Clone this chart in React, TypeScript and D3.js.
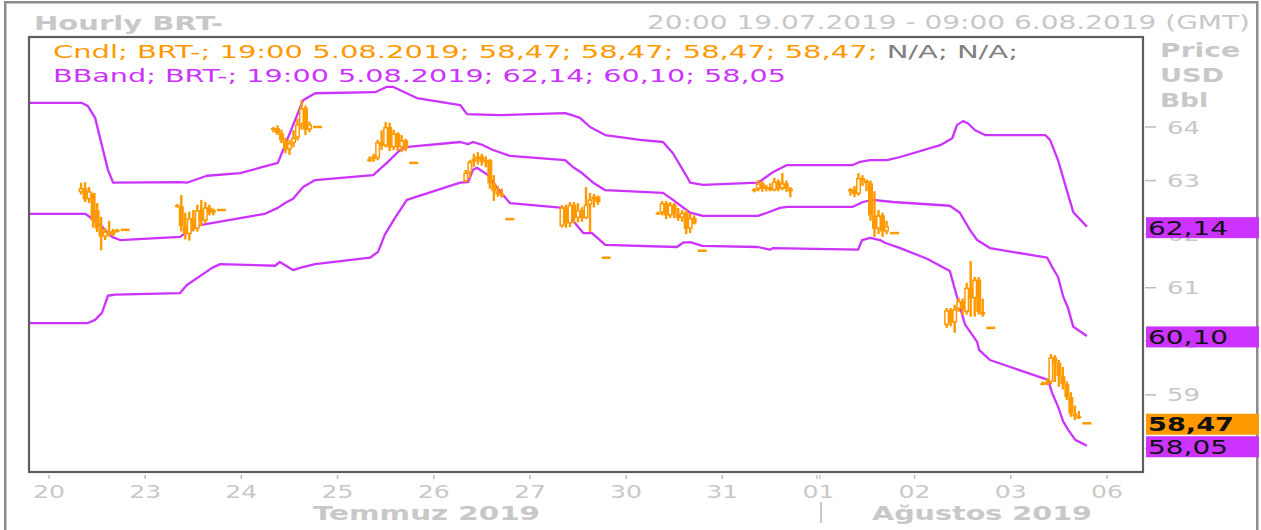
import * as d3 from "d3";

// trading-day slots shown on the time axis (weekends removed)
const dayLabels = ["20", "23", "24", "25", "26", "27", "30", "31", "01", "02", "03", "06"];
const sessionHours = [8, 9, 10, 11, 12, 13, 14, 15, 16, 17];
const settleHour = 19;

// hourly candles, one row per day slot, one column per session hour
const openByDay = [
  [62.78, 62.86, 62.65, 62.77, 62.45, 62.10, 61.95, 62.05, 62.00, 62.06],
  [62.54, 62.52, 62.15, 62.00, 62.30, 62.10, 62.45, 62.25, 62.50, 62.40],
  [63.95, 63.98, 63.88, 63.75, 63.58, 63.70, 63.80, 64.05, 64.35, 63.95],
  [63.38, 63.40, 63.42, 63.72, 63.65, 64.00, 63.62, 63.88, 63.62, 63.75],
  [62.98, 63.15, 63.35, 63.40, 63.45, 63.35, 63.38, 62.95, 62.80, 62.75],
  [62.15, 62.50, 62.20, 62.55, 62.30, 62.45, 62.30, 62.55, 62.65, 62.70],
  [62.40, 62.40, 62.58, 62.35, 62.55, 62.38, 62.30, 62.40, 62.10, 62.30],
  [62.82, 62.84, 62.95, 62.85, 62.88, 62.82, 62.98, 62.85, 62.95, 62.85],
  [62.80, 62.84, 62.75, 63.05, 63.00, 62.95, 62.35, 62.10, 62.35, 62.05],
  [60.30, 60.58, 60.35, 60.60, 60.75, 60.55, 61.00, 60.80, 61.15, 60.55],
  [59.22, 59.20, 59.24, 59.70, 59.60, 59.35, 59.20, 58.96, 58.65, 58.60],
];
const highByDay = [
  [62.96, 62.97, 62.88, 62.77, 62.58, 62.32, 62.12, 62.25, 62.10, 62.10],
  [62.56, 62.73, 62.40, 62.42, 62.45, 62.55, 62.64, 62.60, 62.55, 62.48],
  [64.00, 64.03, 63.95, 63.80, 63.76, 63.94, 64.15, 64.50, 64.40, 64.10],
  [63.45, 63.50, 63.76, 63.94, 64.09, 64.08, 63.95, 63.90, 63.85, 63.78],
  [63.20, 63.38, 63.50, 63.53, 63.50, 63.45, 63.40, 63.10, 62.90, 62.85],
  [62.54, 62.55, 62.60, 62.60, 62.58, 62.50, 62.88, 62.77, 62.75, 62.72],
  [62.42, 62.62, 62.62, 62.60, 62.58, 62.49, 62.45, 62.45, 62.38, 62.35],
  [62.86, 63.01, 63.00, 62.92, 62.95, 63.05, 63.02, 63.14, 63.00, 62.88],
  [62.86, 62.90, 63.14, 63.10, 63.02, 63.00, 62.80, 62.45, 62.40, 62.25],
  [60.62, 60.62, 60.68, 60.81, 60.80, 61.09, 61.50, 61.20, 61.20, 60.80],
  [59.25, 59.30, 59.76, 59.74, 59.65, 59.52, 59.25, 59.05, 58.80, 58.70],
];
const lowByDay = [
  [62.74, 62.60, 62.58, 62.12, 62.04, 61.70, 61.89, 61.95, 61.96, 62.03],
  [62.50, 62.05, 61.90, 61.88, 62.05, 62.05, 62.15, 62.20, 62.35, 62.35],
  [63.90, 63.85, 63.70, 63.51, 63.48, 63.62, 63.75, 63.95, 63.85, 63.90],
  [63.35, 63.35, 63.38, 63.57, 63.62, 63.55, 63.57, 63.55, 63.53, 63.55],
  [62.97, 63.05, 63.25, 63.30, 63.28, 63.25, 62.85, 62.62, 62.70, 62.68],
  [62.12, 62.12, 62.13, 62.20, 62.22, 62.23, 62.28, 62.04, 62.50, 62.55],
  [62.38, 62.35, 62.28, 62.30, 62.30, 62.25, 62.23, 62.00, 62.02, 62.18],
  [62.78, 62.80, 62.79, 62.80, 62.80, 62.80, 62.80, 62.82, 62.79, 62.69],
  [62.72, 62.69, 62.72, 62.90, 62.80, 62.25, 61.95, 62.00, 61.95, 62.00],
  [60.25, 60.28, 60.16, 60.55, 60.49, 60.50, 60.46, 60.46, 60.50, 60.46],
  [59.18, 59.18, 59.20, 59.24, 59.15, 59.10, 58.90, 58.59, 58.53, 58.55],
];
const closeByDay = [
  [62.86, 62.65, 62.80, 62.25, 62.10, 61.95, 62.05, 62.00, 62.06, 62.08],
  [62.52, 62.15, 62.00, 62.30, 62.10, 62.45, 62.25, 62.50, 62.40, 62.45],
  [63.98, 63.88, 63.75, 63.58, 63.70, 63.80, 64.05, 64.35, 63.95, 64.05],
  [63.40, 63.45, 63.72, 63.65, 64.00, 63.62, 63.88, 63.62, 63.75, 63.60],
  [63.15, 63.35, 63.40, 63.45, 63.35, 63.38, 62.95, 62.80, 62.75, 62.72],
  [62.50, 62.20, 62.55, 62.30, 62.45, 62.30, 62.55, 62.65, 62.70, 62.60],
  [62.40, 62.58, 62.35, 62.55, 62.38, 62.30, 62.40, 62.10, 62.30, 62.20],
  [62.84, 62.95, 62.85, 62.88, 62.82, 62.98, 62.85, 62.95, 62.85, 62.80],
  [62.84, 62.75, 63.05, 63.00, 62.95, 62.35, 62.10, 62.35, 62.05, 62.15],
  [60.58, 60.35, 60.60, 60.75, 60.60, 61.00, 60.80, 61.15, 60.55, 60.50],
  [59.20, 59.24, 59.70, 59.60, 59.35, 59.20, 58.96, 58.65, 58.60, 58.58],
];
// flat 19:00 bar of each day
const settleByDay = [62.08, 62.45, 64.0, 63.33, 62.28, 61.56, 61.69, null, 62.02, 60.25, 58.47];

// Bollinger band: [hours from first day slot, price]
const upperBand: [number, number][] = [
  [-5, 64.45], [8.2, 64.45], [9.7, 64.39], [11.5, 64.17], [14.7, 63.2], [16, 62.96], [32.7, 62.97],
  [34.4, 62.96], [39.4, 63.09], [47.7, 63.14], [52.7, 63.24], [57.1, 63.33], [63.4, 64.5], [66.4, 64.63],
  [81.4, 64.65], [84.3, 64.75], [85.8, 64.75], [91.8, 64.54], [102.6, 64.41], [104.3, 64.24], [112.5, 64.22],
  [128.8, 64.26], [130.5, 64.22], [132.5, 64.17], [135, 64.0], [138.8, 63.85], [147.5, 63.76], [153.2, 63.72],
  [155.7, 63.51], [159.2, 63.07], [160, 62.96], [163.2, 62.92], [176.9, 62.96], [177.9, 63.01], [180.7, 63.16],
  [184.2, 63.29], [200.6, 63.29], [202.4, 63.35], [204.9, 63.38], [209.1, 63.38], [212.4, 63.44], [222.4, 63.66],
  [225.4, 63.79], [226.6, 64.04], [228.1, 64.11], [229.3, 64.07], [231.1, 63.94], [233.6, 63.85], [248.6, 63.85],
  [249.8, 63.76], [251.8, 63.38], [253.6, 62.92], [255.6, 62.41], [259, 62.14],
];
const middleBand: [number, number][] = [
  [-5, 62.38], [9, 62.38], [10.2, 62.32], [13.5, 62.12], [15.7, 61.95], [17.7, 61.89], [32.7, 61.95],
  [34.4, 62.04], [37.7, 62.17], [47.7, 62.3], [53.9, 62.38], [57.1, 62.49], [58.9, 62.58], [60.9, 62.66],
  [63.4, 62.88], [66.4, 63.01], [80.9, 63.1], [84.3, 63.33], [87.6, 63.57], [89.6, 63.63], [102.6, 63.72],
  [104.6, 63.68], [105.8, 63.72], [108.3, 63.66], [110.8, 63.57], [115, 63.46], [128.8, 63.38], [130.8, 63.25],
  [133, 63.14], [135.8, 62.96], [138.8, 62.82], [153.2, 62.77], [155.7, 62.64], [160, 62.4], [163.2, 62.34],
  [176.9, 62.34], [179.2, 62.4], [182.4, 62.49], [184.2, 62.51], [200.6, 62.51], [203.1, 62.6], [205.6, 62.64],
  [210.6, 62.6], [224.8, 62.53], [227.3, 62.4], [229.8, 62.08], [231.6, 61.89], [234.8, 61.74], [249.1, 61.56],
  [250.3, 61.39], [251.8, 61.2], [253.1, 60.83], [254.3, 60.62], [255.6, 60.27], [259, 60.1],
];
const lowerBand: [number, number][] = [
  [-5, 60.34], [9.7, 60.34], [11.5, 60.4], [13.2, 60.53], [14.7, 60.85], [16.5, 60.87], [32.7, 60.9],
  [34.4, 61.05], [40.7, 61.37], [42.7, 61.44], [56.4, 61.41], [57.6, 61.48], [59.1, 61.41], [60.9, 61.33],
  [62.6, 61.37], [66.4, 61.44], [80.1, 61.56], [82.1, 61.67], [83.8, 61.99], [86.3, 62.3], [89.3, 62.64],
  [102.6, 62.96], [104.6, 62.97], [105.8, 63.2], [106.8, 63.24], [109.6, 63.1], [110.8, 62.96], [115, 62.58],
  [128.3, 62.49], [130, 62.32], [133.3, 62.02], [135.5, 62.02], [138.8, 61.8], [156.7, 61.76], [158.2, 61.84],
  [160, 61.85], [163, 61.78], [176.9, 61.76], [179.9, 61.71], [180.7, 61.74], [201.9, 61.71], [202.9, 61.89],
  [204.9, 61.93], [207.4, 61.89], [208.6, 61.84], [212.4, 61.74], [219.1, 61.54], [224.8, 61.31], [226.6, 60.83],
  [228.6, 60.31], [230.4, 60.12], [231.6, 59.99], [232.1, 59.84], [234.8, 59.65], [249.3, 59.28], [250.3, 59.04],
  [251.8, 58.78], [253.1, 58.5], [254.3, 58.35], [256.1, 58.16], [259, 58.05],
];

const priceTicks = [64, 63, 62, 61, 60, 59, 58];
const lastPrices = [62.14, 60.1, 58.47, 58.05];
const lastLabels = ["62,14", "60,10", "58,47", "58,05"];

const W = 1261;
const H = 530;
const plot = { left: 29, top: 37, right: 1143, bottom: 472 };
const ORANGE = "#ff9900";
const PURPLE = "#cc33ff";
const GRAY = "#c8c8c8";
const FONT = "DejaVu Sans, Verdana, sans-serif";

export default function App() {
  const x = d3.scaleLinear().domain([-5, 273]).range([plot.left, plot.right]);
  const y = d3.scaleLinear().domain([57.56, 65.68]).range([plot.bottom, plot.top]);
  const line = d3
    .line<[number, number]>()
    .x((d) => x(d[0]))
    .y((d) => y(d[1]));

  const candles = openByDay.flatMap((row, k) =>
    row.map((o, i) => ({
      t: 24 * k + sessionHours[i],
      o,
      h: highByDay[k][i],
      l: lowByDay[k][i],
      c: closeByDay[k][i],
    }))
  );
  const settles = settleByDay
    .map((v, k) => ({ t: 24 * k + settleHour, v }))
    .filter((d) => d.v !== null) as { t: number; v: number }[];

  const bodyW = 5;
  const wickW = 2.4;

  return (
    <svg width={W} height={H} style={{ position: "absolute", left: 0, top: 0 }} fontFamily={FONT}>
      <rect x={0} y={0} width={W} height={H} fill="#fff" />
      <rect x={5.25} y={2.25} width={1252} height={540} fill="none" stroke="#8c8c8c" strokeWidth={2.5} />

      {/* header */}
      <text x={34} y={29.5} fontSize={20} fontWeight="bold" fill={GRAY} textLength={189} lengthAdjust="spacingAndGlyphs">
        Hourly BRT-
      </text>
      <text x={647} y={28.5} fontSize={19.5} fill={GRAY} textLength={603} lengthAdjust="spacingAndGlyphs">
        20:00 19.07.2019 - 09:00 6.08.2019 (GMT)
      </text>

      <defs>
        <clipPath id="plotClip">
          <rect x={plot.left} y={plot.top} width={plot.right - plot.left} height={plot.bottom - plot.top} />
        </clipPath>
      </defs>

      <g clipPath="url(#plotClip)">
        {[upperBand, middleBand, lowerBand].map((b, i) => (
          <path key={i} d={line(b) ?? ""} fill="none" stroke={PURPLE} strokeWidth={2.3} strokeLinejoin="round" />
        ))}
        {candles.map((d, i) => {
          const cx = x(d.t);
          const up = d.c > d.o;
          const top = y(Math.max(d.o, d.c));
          const bh = Math.max(2, Math.abs(y(d.o) - y(d.c)));
          return (
            <g key={i}>
              <rect x={cx - wickW / 2} y={y(d.h)} width={wickW} height={Math.max(1, y(d.l) - y(d.h))} fill={ORANGE} />
              {up ? (
                <rect x={cx - bodyW / 2 + 0.75} y={top + 0.75} width={bodyW - 1.5} height={Math.max(0.5, bh - 1.5)} fill="#fff" stroke={ORANGE} strokeWidth={1.5} />
              ) : (
                <rect x={cx - bodyW / 2} y={top} width={bodyW} height={bh} fill={ORANGE} />
              )}
            </g>
          );
        })}
        {settles.map((d, i) => (
          <rect key={i} x={x(d.t) - 4.5} y={y(d.v) - 1.25} width={9} height={2.5} fill={ORANGE} />
        ))}
      </g>

      {/* legend */}
      <text x={53} y={57.7} fontSize={18} textLength={965} lengthAdjust="spacingAndGlyphs">
        <tspan fill={ORANGE}>Cndl; BRT-; 19:00 5.08.2019; 58,47; 58,47; 58,47; 58,47; </tspan>
        <tspan fill="#808080">N/A; N/A;</tspan>
      </text>
      <text x={53} y={81.7} fontSize={18} fill={PURPLE} textLength={733} lengthAdjust="spacingAndGlyphs">
        BBand; BRT-; 19:00 5.08.2019; 62,14; 60,10; 58,05
      </text>

      <rect x={plot.left} y={plot.top} width={plot.right - plot.left} height={plot.bottom - plot.top} fill="none" stroke="#5e5e5e" strokeWidth={2.2} />

      {/* price axis */}
      {["Price", "USD", "Bbl"].map((s, i) => (
        <text key={s} x={1160} y={57 + i * 25} fontSize={20} fontWeight="bold" fill={GRAY} textLength={[80, 64, 48][i]} lengthAdjust="spacingAndGlyphs">
          {s}
        </text>
      ))}
      {priceTicks.map((p) => (
        <g key={p}>
          <line x1={1145} x2={1156} y1={y(p)} y2={y(p)} stroke="#bdbdbd" strokeWidth={1.5} />
          <text x={1167} y={y(p) + 6.5} fontSize={17.5} fill={GRAY} textLength={33} lengthAdjust="spacingAndGlyphs">
            {p}
          </text>
        </g>
      ))}

      {lastPrices.map((p, i) => {
        const isCandle = i === 2;
        const cy = y(p) + 1;
        return (
          <g key={i}>
            <rect x={1146} y={cy - 10.5} width={113} height={21} fill={isCandle ? ORANGE : PURPLE} />
            <text x={1148} y={cy + 7} fontSize={19} fontWeight={isCandle ? "bold" : "normal"} fill="#111" textLength={isCandle ? 86 : 80} lengthAdjust="spacingAndGlyphs">
              {lastLabels[i]}
            </text>
          </g>
        );
      })}

      {/* time axis */}
      {dayLabels.map((lab, k) => {
        const tx = x(24 * k);
        return (
          <g key={k}>
            {lab === "01" ? (
              <>
                <line x1={tx - 1.5} x2={tx - 1.5} y1={475} y2={479} stroke="#bdbdbd" strokeWidth={1.2} />
                <line x1={tx + 1.5} x2={tx + 1.5} y1={475} y2={479} stroke="#bdbdbd" strokeWidth={1.2} />
              </>
            ) : (
              <line x1={tx} x2={tx} y1={475} y2={479} stroke="#bdbdbd" strokeWidth={1.5} />
            )}
            <text x={tx} y={498} fontSize={17.5} fill={GRAY} textAnchor="middle" textLength={32} lengthAdjust="spacingAndGlyphs">
              {lab}
            </text>
          </g>
        );
      })}
      <text x={313} y={520} fontSize={20} fontWeight="bold" fill={GRAY} textLength={227} lengthAdjust="spacingAndGlyphs">
        Temmuz 2019
      </text>
      <line x1={821} x2={821} y1={502} y2={523} stroke={GRAY} strokeWidth={2} />
      <text x={872} y={520} fontSize={20} fontWeight="bold" fill={GRAY} textLength={220} lengthAdjust="spacingAndGlyphs">
        Ağustos 2019
      </text>
    </svg>
  );
}
